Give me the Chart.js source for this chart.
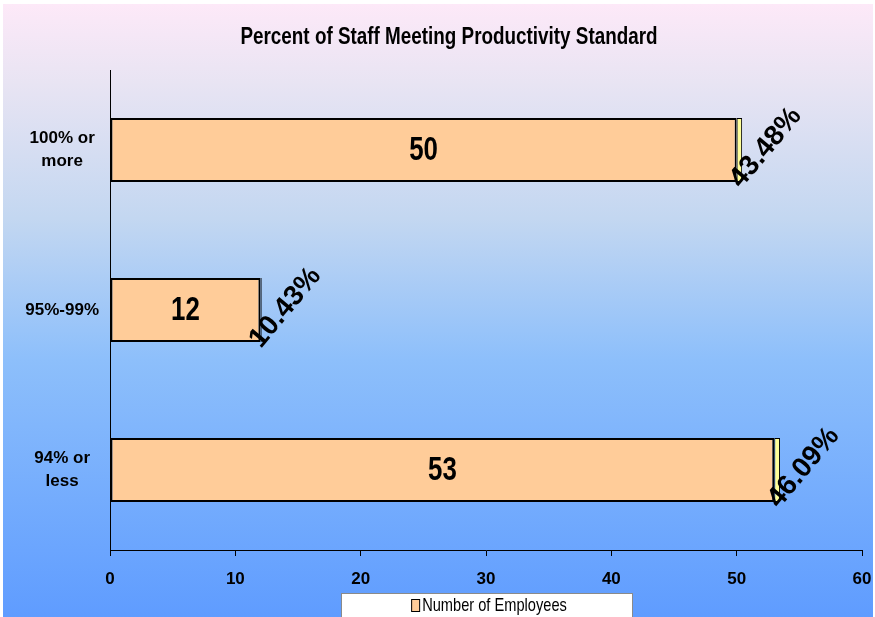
<!DOCTYPE html>
<html>
<head>
<meta charset="utf-8">
<title>Percent of Staff Meeting Productivity Standard</title>
<script src="https://cdn.jsdelivr.net/npm/chart.js@4.4.1/dist/chart.umd.min.js"></script>
<style>
  html, body { margin: 0; padding: 0; background: #fff; }
  #wrap { width: 875px; height: 617px; }
</style>
</head>
<body>
<div id="wrap"><canvas id="myChart" width="875" height="617"></canvas></div>
<script>
// datos del grafico
const chartTitle = 'Percent of Staff Meeting Productivity Standard';
const categories = [['100% or', 'more'], '95%-99%', ['94% or', 'less']];
const employees = [50, 12, 53];
const shares = [43.48, 10.43, 46.09]; // porcentaje del total
const xTicks = [0, 10, 20, 30, 40, 50, 60];

const SANS = '"Liberation Sans", Arial, sans-serif';

// texto angosto: se comprime en horizontal
function textoAngosto(ctx, txt, x, y, font, escala, align) {
    ctx.save();
    ctx.font = font;
    ctx.textAlign = align;
    ctx.textBaseline = 'middle';
    ctx.translate(x, y);
    ctx.scale(escala, 1);
    ctx.fillText(txt, 0, 0);
    ctx.restore();
}

// fondo degradado rosa -> azul
const fondo = {
    id: 'fondo',
    beforeDraw(chart) {
        const ctx = chart.ctx;
        ctx.save();
        ctx.fillStyle = '#fff';
        ctx.fillRect(0, 0, chart.width, chart.height);
        const g = ctx.createLinearGradient(0, 4, 0, chart.height);
        g.addColorStop(0, '#FDE9F8');
        g.addColorStop(0.13, '#E8E4F3');
        g.addColorStop(0.35, '#C3D7F1');
        g.addColorStop(0.58, '#8DBFFB');
        g.addColorStop(1, '#5F9CFF');
        ctx.fillStyle = g;
        ctx.fillRect(3, 4, chart.width - 5, chart.height - 4);
        ctx.restore();
    }
};

// etiquetas de valor y de porcentaje
const etiquetas = {
    id: 'etiquetas',
    afterDatasetsDraw(chart) {
        const ctx = chart.ctx;
        ctx.save();
        ctx.fillStyle = '#000';
        chart.getDatasetMeta(0).data.forEach((bar, i) => {
            textoAngosto(ctx, String(employees[i]), (bar.x + bar.base) / 2, bar.y + 1,
                'bold 34px ' + SANS, 0.76, 'center');
        });
        chart.getDatasetMeta(1).data.forEach((bar, i) => {
            const bottom = bar.y + bar.height / 2;
            ctx.save();
            ctx.translate(bar.x - 1, bottom + 7);
            ctx.rotate(-50 * Math.PI / 180);
            ctx.font = 'bold 28px ' + SANS;
            ctx.textAlign = 'left';
            ctx.textBaseline = 'alphabetic';
            ctx.fillText(shares[i].toFixed(2) + '%', 0, 0);
            ctx.restore();
        });
        ctx.restore();
    },
    afterDraw(chart) {
        const ctx = chart.ctx;
        const area = chart.chartArea;
        ctx.save();
        // titulo
        ctx.fillStyle = '#000';
        textoAngosto(ctx, chartTitle, 449, 38, 'bold 23px ' + SANS, 0.82, 'center');

        // leyenda
        ctx.fillStyle = '#fff';
        ctx.fillRect(341, 593, 292, 30);
        ctx.strokeStyle = '#8a8a8a';
        ctx.lineWidth = 1;
        ctx.strokeRect(341.5, 593.5, 291, 30);
        const texto = chart.data.datasets[0].label;
        ctx.font = '19px ' + SANS;
        const w = ctx.measureText(texto).width * 0.77;
        const cx = (area.left + area.right) / 2 + 3;
        const x0 = cx - (w + 11) / 2;
        ctx.fillStyle = '#FFCC99';
        ctx.fillRect(x0, 599, 8, 12);
        ctx.strokeStyle = '#000';
        ctx.strokeRect(x0 + 0.5, 599.5, 8, 12);
        ctx.fillStyle = '#000';
        textoAngosto(ctx, texto, x0 + 11, 606, '19px ' + SANS, 0.77, 'left');
        ctx.restore();
    }
};

const data = {
    labels: categories,
    datasets: [{
        label: 'Number of Employees',
        data: employees,
        backgroundColor: '#FFCC99',
        borderColor: '#000',
        borderWidth: 2,
        borderSkipped: false
    }, {
        label: 'Percent',
        data: shares.map(v => v / 100),
        backgroundColor: '#FFFF99',
        borderColor: '#000',
        borderWidth: 1,
        borderSkipped: false
    }]
};

const options = {
    indexAxis: 'y',
    responsive: false,
    animation: false,
    devicePixelRatio: 1,
    categoryPercentage: 1,
    barPercentage: 0.4,
    layout: { padding: { top: 70, right: 13, bottom: 22, left: 0 } },
    plugins: {
        legend: { display: false },
        title: { display: false },
        tooltip: { enabled: false }
    },
    scales: {
        x: {
            stacked: true,
            min: 0,
            max: 60,
            afterBuildTicks: s => { s.ticks = xTicks.map(v => ({ value: v })); },
            afterFit: s => { s.height = 45; s.paddingRight = 0; s.paddingLeft = 0; },
            grid: { drawOnChartArea: false, drawTicks: true, tickLength: 6, color: '#000' },
            border: { color: '#000', width: 1 },
            ticks: { color: '#000', padding: 13, font: { family: SANS, size: 17, weight: 'bold' } }
        },
        y: {
            stacked: true,
            afterFit: s => { s.width = 110; s.paddingTop = 0; s.paddingBottom = 0; },
            grid: { display: false },
            border: { display: true, color: '#000', width: 1 },
            ticks: {
                color: '#000',
                padding: 3,
                crossAlign: 'center',
                font: { family: SANS, size: 17, weight: 'bold', lineHeight: 1.35 }
            }
        }
    }
};

const config = { type: 'bar', data, options, plugins: [fondo, etiquetas] };

const myChart = new Chart(document.getElementById('myChart').getContext('2d'), config);
</script>
</body>
</html>
